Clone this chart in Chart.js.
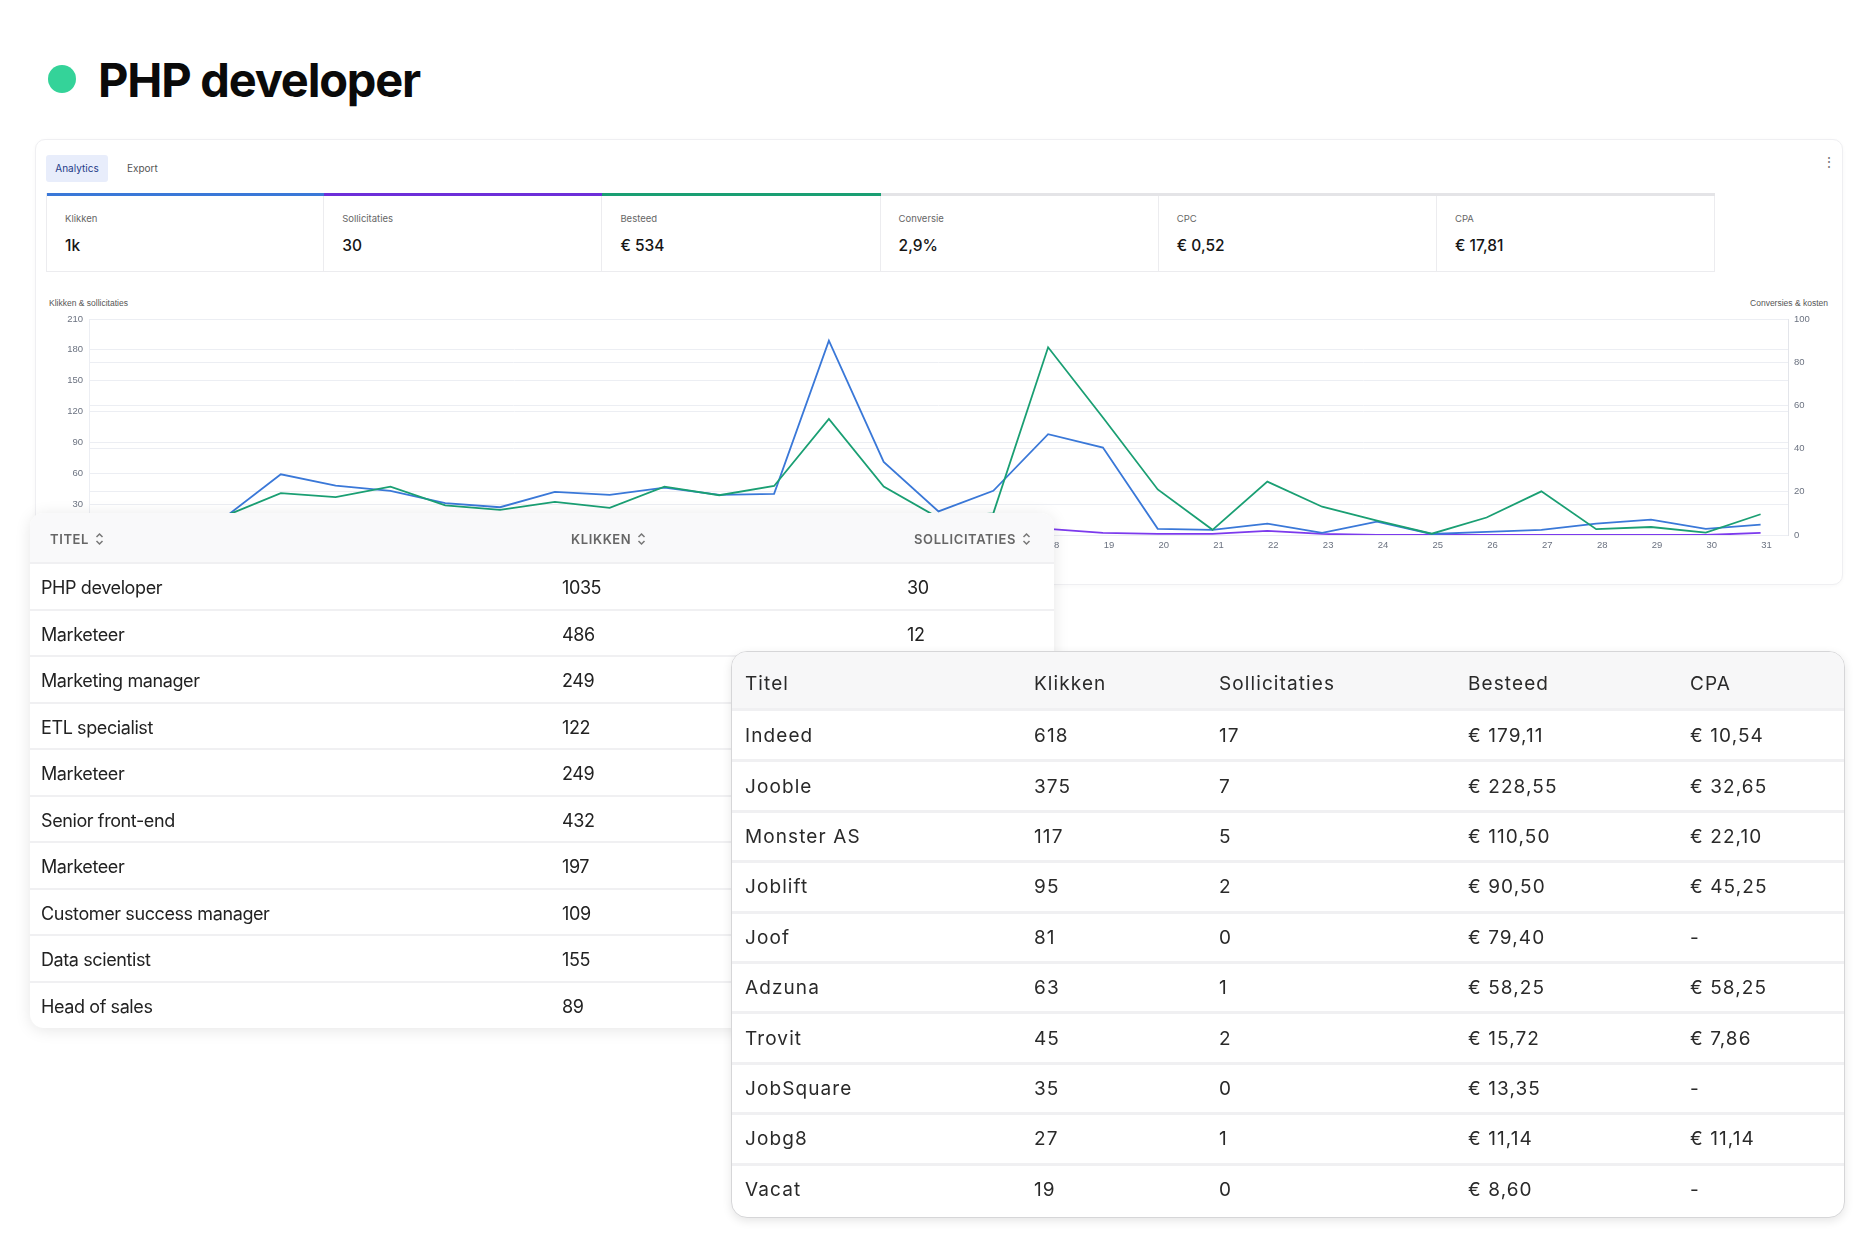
<!DOCTYPE html>
<html>
<head>
<meta charset="utf-8">
<script src="https://cdn.jsdelivr.net/npm/chart.js@4/dist/chart.umd.min.js"></script>
<style>
html,body{margin:0;padding:0;background:#fff;}
body{width:1875px;height:1250px;position:relative;overflow:hidden;font-family:Inter,"Noto Sans",sans-serif;color:#1f1f1f;}
.a{position:absolute;white-space:nowrap;}
#dot{left:48px;top:65px;width:28px;height:28px;border-radius:50%;background:#34d399;}
#title{left:98px;top:52px;font-size:47px;line-height:56px;font-weight:700;letter-spacing:-1.2px;color:#0a0a0a;}
#card{left:35px;top:139px;width:1806px;height:444px;border:1px solid #efeff2;border-radius:10px;background:#fff;box-shadow:0 1px 4px rgba(0,0,0,0.03);}
#tabA{left:46px;top:155px;width:62px;height:27px;background:#e8edfb;border-radius:3px;color:#1f3c88;font-size:10px;line-height:27px;text-align:center;}
#tabE{left:127px;top:155px;height:27px;color:#555;font-size:10px;line-height:27px;}
#kebab{left:1822px;top:152px;color:#777;font-size:14px;line-height:20px;}
.kcell{position:absolute;top:193px;height:79px;box-sizing:border-box;border-bottom:1px solid #ececef;border-right:1px solid #ececef;}
.kbar{position:absolute;left:0;right:-1px;top:0;height:3px;}
.klab{position:absolute;left:18px;top:20px;font-size:9.5px;line-height:12px;color:#666;}
.kval{position:absolute;left:18px;top:43px;font-size:15.5px;line-height:20px;font-weight:500;color:#151515;}
.axt{font-size:8.5px;color:#555;line-height:10px;font-family:"Liberation Sans",Arial,sans-serif;}
#chartBox{left:36px;top:300px;width:1806px;height:270px;}
#lt{left:30px;top:513px;width:1024px;height:515px;background:#fff;border-radius:14px;box-shadow:0 2px 16px rgba(0,0,0,0.10);overflow:hidden;}
#rt{left:731px;top:651px;width:1112px;height:565px;background:#fff;border-radius:16px;border:1px solid #d6d6d8;box-shadow:0 3px 10px rgba(0,0,0,0.10);overflow:hidden;}
.lh{position:absolute;font-size:13px;font-weight:600;color:#666;letter-spacing:0.6px;line-height:16px;}
.lc{position:absolute;font-size:18px;color:#222;letter-spacing:-0.4px;line-height:22px;}
.rc{position:absolute;font-size:19px;color:#2a2a2a;letter-spacing:1.1px;line-height:24px;}
.sep{position:absolute;left:0;right:0;height:2px;background:#f0f0f2;}
</style>
</head>
<body>
<div class="a" id="dot"></div>
<div class="a" id="title">PHP developer</div>
<div class="a" id="card"></div>
<div class="a" id="tabA">Analytics</div>
<div class="a" id="tabE">Export</div>
<div class="a" id="kebab">⋮</div>
<div id="kpis"></div>
<div class="a axt" style="left:49px;top:298px;">Klikken &amp; sollicitaties</div>
<div class="a axt" style="left:1700px;width:128px;text-align:right;top:298px;">Conversies &amp; kosten</div>
<div class="a" id="chartBox"><canvas id="c" width="1806" height="270"></canvas></div>
<div class="a" id="lt"></div>
<div class="a" id="rt"></div>
<script>
// ---- KPI strip ----
const kpiLabels = ['Klikken','Sollicitaties','Besteed','Conversie','CPC','CPA'];
const kpiValues = ['1k','30','€ 534','2,9%','€ 0,52','€ 17,81'];
const kpiBarColors = ['#3a78d8','#6d2fd9','#1a9f73','#e4e4e7','#e4e4e7','#e4e4e7'];

// ---- Chart data ----
const days = ['1','2','3','4','5','6','7','8','9','10','11','12','13','14','15','16','17','18','19','20','21','22','23','24','25','26','27','28','29','30','31'];
const klikken = [3,4,18,59,48,43,31,27,42,39,46,39,40,189,71,23,43,98,85,6,5,11,2,13,1,3,5,11,15,6,10];
const besteed = [1,1,9,19.4,17.5,22.4,13.7,11.6,15.3,12.6,22.4,18.4,22.7,53.7,22.4,8,10,86.9,54.4,21.1,2.4,24.7,13.1,6.6,0.6,8.1,20.2,2.7,3.7,1.1,9.6];
const sollicitaties = [0,1,0,2,1,1,0,1,1,0,1,0,1,2,1,0,1,6,2,1,1,4,1,0,0,0,0,0,0,0,2];
const leftTicks = {min:0,max:210,step:30};
const rightTicks = {min:0,max:100,step:20};

// ---- Left table (vacatures) ----
const vacTitles = ['PHP developer','Marketeer','Marketing manager','ETL specialist','Marketeer','Senior front-end','Marketeer','Customer success manager','Data scientist','Head of sales'];
const vacKlikken = [1035,486,249,122,249,432,197,109,155,89];
const vacSollicitaties = [30,12,null,null,null,null,null,null,null,null];

// ---- Right table (bronnen) ----
const srcNames = ['Indeed','Jooble','Monster AS','Joblift','Joof','Adzuna','Trovit','JobSquare','Jobg8','Vacat'];
const srcKlikken = [618,375,117,95,81,63,45,35,27,19];
const srcSollicitaties = [17,7,5,2,0,1,2,0,1,0];
const srcBesteed = [179.11,228.55,110.50,90.50,79.40,58.25,15.72,13.35,11.14,8.60];
const srcCPA = [10.54,32.65,22.10,45.25,null,58.25,7.86,null,11.14,null];

const BLUE='#3a78d8', GREEN='#1a9f73', PURPLE='#7c3aed';

function eur(v){ return v==null ? '-' : '€ ' + v.toFixed(2).replace('.',','); }

// KPI cells
(function(){
  const host=document.getElementById('kpis');
  const x0=46, w=278.2;
  kpiLabels.forEach((l,i)=>{
    const c=document.createElement('div'); c.className='kcell';
    c.style.left=(x0+i*w)+'px'; c.style.width=w+'px';
    if(i===0) c.style.borderLeft='1px solid #ececef';
    c.innerHTML='<div class="kbar" style="background:'+kpiBarColors[i]+'"></div><div class="klab">'+l+'</div><div class="kval">'+kpiValues[i]+'</div>';
    host.appendChild(c);
  });
})();

const sortIcon='<svg width="9" height="14" viewBox="0 0 9 14" style="vertical-align:-2px;margin-left:6px"><path d="M1.5 5 L4.5 2 L7.5 5" fill="none" stroke="#777" stroke-width="1.5"/><path d="M1.5 9 L4.5 12 L7.5 9" fill="none" stroke="#777" stroke-width="1.5"/></svg>';

// Left table
(function(){
  const t=document.getElementById('lt');
  let h='<div style="position:absolute;left:0;top:0;right:0;height:50px;background:#f9f9fa"></div>';
  h+='<div class="lh" style="left:20px;top:18px">TITEL'+sortIcon+'</div>';
  h+='<div class="lh" style="left:541px;top:18px">KLIKKEN'+sortIcon+'</div>';
  h+='<div class="lh" style="left:884px;top:18px">SOLLICITATIES'+sortIcon+'</div>';
  h+='<div class="sep" style="top:49px"></div>';
  const rh=46.5;
  vacTitles.forEach((n,i)=>{
    const top=50+i*rh;
    const cy=top+rh/2-9;
    h+='<div class="lc" style="left:11px;top:'+cy+'px">'+n+'</div>';
    h+='<div class="lc" style="left:532px;top:'+cy+'px">'+vacKlikken[i]+'</div>';
    h+='<div class="lc" style="left:877px;top:'+cy+'px">'+(vacSollicitaties[i]==null?'':vacSollicitaties[i])+'</div>';
    if(i<vacTitles.length-1) h+='<div class="sep" style="top:'+(top+rh-1)+'px"></div>';
  });
  t.innerHTML=h;
})();

// Right table
(function(){
  const t=document.getElementById('rt');
  const cols=[13,302,487,736,958];
  const heads=['Titel','Klikken','Sollicitaties','Besteed','CPA'];
  let h='<div style="position:absolute;left:0;top:0;right:0;height:57px;background:#f7f7f8"></div>';
  heads.forEach((s,j)=>{ h+='<div class="rc" style="left:'+cols[j]+'px;top:20px">'+s+'</div>'; });
  h+='<div class="sep" style="top:56px;height:3px"></div>';
  const rh=50.4;
  srcNames.forEach((n,i)=>{
    const top=58+i*rh;
    const cy=top+rh/2-11;
    const vals=[n,srcKlikken[i],srcSollicitaties[i],eur(srcBesteed[i]),eur(srcCPA[i])];
    vals.forEach((v,j)=>{ h+='<div class="rc" style="left:'+cols[j]+'px;top:'+cy+'px">'+v+'</div>'; });
    if(i<srcNames.length-1) h+='<div class="sep" style="top:'+(top+rh-1)+'px;height:3px"></div>';
  });
  t.innerHTML=h;
})();

// Chart
const tickFont={family:'"Liberation Sans", Arial, sans-serif', size:9.5};
new Chart(document.getElementById('c'),{
  type:'line',
  data:{labels:days,datasets:[
    {label:'Klikken',data:klikken,borderColor:BLUE,yAxisID:'y',order:2},
    {label:'Besteed',data:besteed,borderColor:GREEN,yAxisID:'y1',order:1},
    {label:'Sollicitaties',data:sollicitaties,borderColor:PURPLE,yAxisID:'y',order:3}
  ]},
  options:{
    responsive:false,animation:false,maintainAspectRatio:false,
    layout:{padding:{top:19,left:0,right:0,bottom:0}},
    plugins:{legend:{display:false},tooltip:{enabled:false}},
    elements:{point:{radius:0},line:{borderWidth:1.8,tension:0,fill:false}},
    scales:{
      x:{offset:true,grid:{display:false,drawTicks:false},border:{display:false},
         ticks:{padding:5,labelOffset:6,font:tickFont,color:'#6b7280',maxRotation:0,autoSkip:false},
         afterFit(s){s.height=35;}},
      y:{position:'left',min:leftTicks.min,max:leftTicks.max,
         ticks:{stepSize:leftTicks.step,padding:6,font:tickFont,color:'#6b7280'},
         grid:{color:'#eceef3',drawTicks:false},border:{color:'#eceef3'},
         afterFit(s){s.width=53;}},
      y1:{position:'right',min:rightTicks.min,max:rightTicks.max,
         ticks:{stepSize:rightTicks.step,padding:6,font:tickFont,color:'#6b7280'},
         grid:{color:'#eceef3',drawTicks:false},border:{color:'#e3e5ea'},
         afterFit(s){s.width=54;}}
    }
  }
});
</script>
</body>
</html>
